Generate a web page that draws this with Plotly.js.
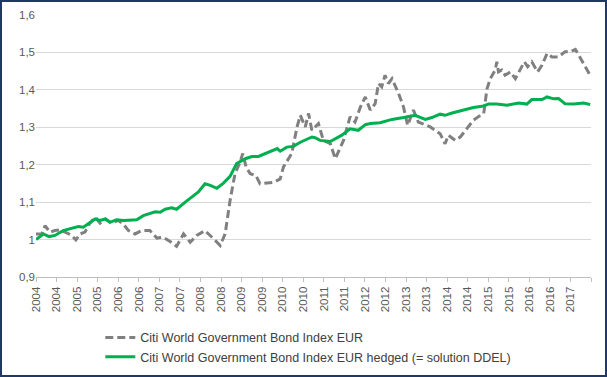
<!DOCTYPE html>
<html>
<head>
<meta charset="utf-8">
<script src="https://cdn.plot.ly/plotly-3.0.1.min.js"></script>
<style>
html,body{margin:0;padding:0;background:#fff;}
#wrap{width:607px;height:377px;box-sizing:border-box;border:2px solid #1F3864;overflow:hidden;}
#chart{width:603px;height:373px;}
</style>
</head>
<body>
<div id="wrap"><div id="chart"></div></div>
<script>
// Unhedged index (dashed grey): decimal years and values
const unhedgedX = [2004.00,2004.14,2004.22,2004.34,2004.46,2004.58,2004.71,2004.87,2004.97,2005.07,2005.19,2005.30,2005.44,2005.56,2005.70,2005.84,2006.00,2006.12,2006.25,2006.41,2006.57,2006.77,2006.94,2007.10,2007.26,2007.42,2007.59,2007.75,2007.91,2008.11,2008.32,2008.48,2008.60,2008.72,2008.84,2008.95,2009.03,2009.11,2009.21,2009.35,2009.45,2009.62,2009.78,2009.94,2010.02,2010.22,2010.35,2010.43,2010.55,2010.63,2010.71,2010.87,2010.99,2011.16,2011.28,2011.48,2011.64,2011.76,2011.89,2012.01,2012.13,2012.25,2012.33,2012.41,2012.49,2012.57,2012.66,2012.82,2012.94,2013.04,2013.18,2013.30,2013.59,2013.83,2013.95,2014.03,2014.20,2014.32,2014.48,2014.64,2014.81,2014.89,2014.97,2015.05,2015.17,2015.21,2015.25,2015.33,2015.41,2015.54,2015.66,2015.78,2015.88,2015.96,2016.06,2016.20,2016.31,2016.43,2016.55,2016.71,2016.87,2017.00,2017.12,2017.20,2017.32,2017.48];
const unhedgedY = [1.015,1.015,1.037,1.020,1.024,1.026,1.020,1.011,0.999,1.015,1.020,1.042,1.060,1.044,1.055,1.044,1.051,1.042,1.024,1.015,1.024,1.024,1.004,1.006,0.995,0.982,1.015,0.993,1.011,1.024,1.002,0.984,1.015,1.104,1.176,1.203,1.230,1.194,1.176,1.171,1.149,1.151,1.153,1.162,1.194,1.230,1.301,1.332,1.301,1.337,1.292,1.310,1.265,1.256,1.216,1.265,1.328,1.314,1.354,1.381,1.346,1.363,1.417,1.408,1.439,1.417,1.430,1.390,1.354,1.305,1.346,1.314,1.301,1.283,1.256,1.279,1.265,1.274,1.296,1.319,1.332,1.337,1.403,1.430,1.453,1.475,1.448,1.453,1.439,1.448,1.430,1.457,1.475,1.462,1.475,1.448,1.466,1.497,1.488,1.488,1.502,1.502,1.508,1.493,1.471,1.439];

// Hedged index (solid green)
const hedgedX = [2004.00,2004.18,2004.32,2004.46,2004.66,2004.83,2005.03,2005.15,2005.27,2005.44,2005.56,2005.68,2005.80,2005.96,2006.13,2006.45,2006.61,2006.77,2006.90,2007.02,2007.14,2007.30,2007.42,2007.63,2007.79,2007.95,2008.11,2008.24,2008.40,2008.56,2008.72,2008.88,2009.09,2009.25,2009.41,2009.62,2009.78,2009.87,2009.94,2010.10,2010.26,2010.43,2010.63,2010.71,2010.79,2010.91,2011.16,2011.28,2011.44,2011.64,2011.84,2012.01,2012.13,2012.37,2012.66,2012.94,2013.22,2013.47,2013.63,2013.83,2013.95,2014.12,2014.40,2014.64,2014.85,2015.01,2015.21,2015.46,2015.74,2015.94,2016.06,2016.31,2016.43,2016.59,2016.71,2016.87,2017.08,2017.32,2017.48];
const hedgedY = [1.000,1.015,1.008,1.011,1.024,1.029,1.035,1.033,1.042,1.055,1.051,1.055,1.046,1.053,1.051,1.053,1.064,1.069,1.074,1.073,1.081,1.085,1.081,1.100,1.113,1.127,1.149,1.145,1.137,1.151,1.169,1.203,1.216,1.222,1.222,1.231,1.238,1.243,1.236,1.247,1.249,1.260,1.270,1.274,1.272,1.265,1.262,1.270,1.279,1.296,1.292,1.307,1.310,1.312,1.321,1.326,1.332,1.321,1.326,1.335,1.332,1.338,1.347,1.353,1.356,1.362,1.362,1.359,1.365,1.362,1.374,1.374,1.381,1.376,1.377,1.363,1.362,1.365,1.361];

const tickVals = [2004,2004.5,2005,2005.5,2006,2006.5,2007,2007.5,2008,2008.5,2009,2009.5,2010,2010.5,2011,2011.5,2012,2012.5,2013,2013.5,2014,2014.5,2015,2015.5,2016,2016.5,2017,2017.5];
const tickText = ['2004','2004','2005','2005','2006','2006','2007','2007','2008','2008','2009','2009','2010','2010','2011','2011','2012','2012','2013','2013','2014','2014','2015','2015','2016','2016','2017',''];

const names = ['Citi World Government Bond Index EUR','Citi World Government Bond Index EUR hedged (= solution DDEL)'];

const traces = [
  {x: unhedgedX, y: unhedgedY, name: names[0], type: 'scatter', mode: 'lines',
   line: {color: '#808080', width: 3, dash: '8px,4px'}},
  {x: hedgedX, y: hedgedY, name: names[1], type: 'scatter', mode: 'lines',
   line: {color: '#00B050', width: 3}}
];

const layout = {
  width: 603, height: 373,
  margin: {l: 34, r: 14, t: 13, b: 98, autoexpand: false},
  paper_bgcolor: '#ffffff', plot_bgcolor: '#ffffff',
  separators: ',.',
  font: {family: 'Liberation Sans, Arial, sans-serif', size: 11, color: '#595959'},
  showlegend: true,
  legend: {orientation: 'v', xref: 'container', yref: 'container', x: 0.163, xanchor: 'left', y: 0.14, yanchor: 'top',
           font: {size: 12.5, color: '#404040'}, bgcolor: 'rgba(0,0,0,0)', tracegroupgap: 0},
  xaxis: {range: [2004, 2017.5], tickmode: 'array', tickvals: tickVals, ticktext: tickText,
          tickangle: -90, ticks: 'outside', ticklen: 4, tickcolor: '#BFBFBF',
          showgrid: false, showline: true, linecolor: '#BFBFBF', linewidth: 1,
          zeroline: false, automargin: false, tickfont: {size: 11.5, color: '#595959'}},
  yaxis: {range: [0.9, 1.6], dtick: 0.1, tick0: 0.9, showgrid: true, gridcolor: '#D9D9D9', gridwidth: 1,
          zeroline: false, showline: false, ticks: '', automargin: false, tickfont: {size: 11.5, color: '#595959'}}
};

Plotly.newPlot('chart', traces, layout, {displayModeBar: false, staticPlot: true});
</script>
</body>
</html>
